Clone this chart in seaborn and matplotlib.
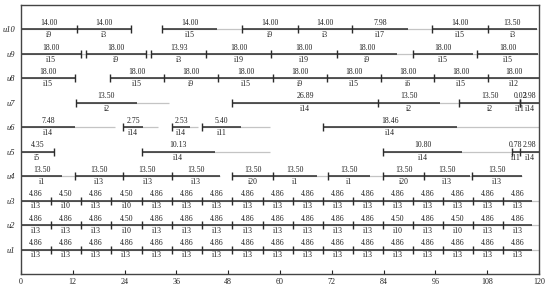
import pandas as pd
import matplotlib
matplotlib.use('Agg')
import matplotlib.pyplot as plt
import seaborn as sns

########## DATA ##########
machines = ['u1', 'u2', 'u3', 'u4', 'u5', 'u6', 'u7', 'u8', 'u9', 'u10']

# u1-u3 share the same time grid
grid_start = [0, 6.9, 13.9, 20.8, 28.0, 35.0, 41.9, 48.9, 56.1, 63.0, 70.0, 76.9, 83.9, 90.8, 97.8, 104.7, 111.7]
grid_end = [6.9, 13.9, 20.8, 28.0, 35.0, 41.9, 48.9, 56.1, 63.0, 70.0, 76.9, 83.9, 90.8, 97.8, 104.7, 111.7, 118.4]
grid_wait = [6.9, 13.9, 20.8, 28.0, 35.0, 41.9, 48.9, 56.1, 63.0, 70.0, 76.9, 83.9, 90.8, 97.8, 104.7, 111.7, 120]

u1_val = [4.86, 4.86, 4.86, 4.86, 4.86, 4.86, 4.86, 4.86, 4.86, 4.86, 4.86, 4.86, 4.86, 4.86, 4.86, 4.86, 4.86]
u1_job = ['i13', 'i13', 'i13', 'i13', 'i13', 'i13', 'i13', 'i13', 'i13', 'i13', 'i13', 'i13', 'i13', 'i13', 'i13', 'i13', 'i13']
u2_val = [4.86, 4.86, 4.86, 4.50, 4.86, 4.86, 4.86, 4.86, 4.86, 4.86, 4.86, 4.86, 4.50, 4.86, 4.50, 4.86, 4.86]
u2_job = ['i13', 'i13', 'i13', 'i10', 'i13', 'i13', 'i13', 'i13', 'i13', 'i13', 'i13', 'i13', 'i10', 'i13', 'i10', 'i13', 'i13']
u3_val = [4.86, 4.50, 4.86, 4.50, 4.86, 4.86, 4.86, 4.86, 4.86, 4.86, 4.86, 4.86, 4.86, 4.86, 4.86, 4.86, 4.86]
u3_job = ['i13', 'i10', 'i13', 'i10', 'i13', 'i13', 'i13', 'i13', 'i13', 'i13', 'i13', 'i13', 'i13', 'i13', 'i13', 'i13', 'i13']

u4_start = [0, 12.5, 23.6, 35.0, 48.9, 58.4, 71.1, 83.9, 93.4, 104.5]
u4_end = [9.5, 23.6, 35.0, 46.1, 58.4, 68.6, 80.9, 93.4, 104.0, 116.1]
u4_wait = [12.5, 23.6, 35.0, 46.1, 58.4, 71.1, 83.9, 93.4, 104.5, 116.1]
u4_val = [13.50, 13.50, 13.50, 13.50, 13.50, 13.50, 13.50, 13.50, 13.50, 13.50]
u4_job = ['i1', 'i13', 'i13', 'i13', 'i20', 'i1', 'i1', 'i20', 'i13', 'i13']

u5_start = [0, 28.0, 83.9, 113.7, 115.6]
u5_end = [7.6, 44.9, 102.2, 115.6, 120]
u5_wait = [7.6, 57.7, 113.7, 115.6, 120]
u5_val = [4.35, 10.13, 10.80, 0.78, 2.98]
u5_job = ['i5', 'i14', 'i14', 'i11', 'i14']

u6_start = [0, 23.6, 35.0, 41.9, 70.0]
u6_end = [12.5, 28.3, 39.2, 51.0, 101.0]
u6_wait = [21.8, 31.7, 41.0, 57.7, 120]
u6_val = [7.48, 2.75, 2.53, 5.40, 18.46]
u6_job = ['i14', 'i14', 'i14', 'i11', 'i14']

u7_start = [12.7, 48.9, 82.7, 101.5, 115.6, 115.6]
u7_end = [26.9, 82.7, 97.1, 115.6, 115.6, 120]
u7_wait = [34.3, 82.7, 101.5, 115.6, 115.6, 120]
u7_val = [13.50, 26.89, 13.50, 13.50, 0.02, 3.98]
u7_job = ['i2', 'i14', 'i2', 'i2', 'i11', 'i14']

u8_start = [0, 20.6, 33.1, 45.6, 58.4, 70.9, 83.4, 95.7, 108.2]
u8_end = [12.5, 33.1, 45.6, 58.4, 70.9, 83.4, 95.7, 108.2, 120]
u8_wait = [12.5, 33.1, 45.6, 58.4, 70.9, 83.4, 95.7, 108.2, 120]
u8_val = [18.00, 18.00, 18.00, 18.00, 18.00, 18.00, 18.00, 18.00, 18.00]
u8_job = ['i15', 'i15', 'i9', 'i15', 'i9', 'i15', 'i6', 'i15', 'i12']

u9_start = [0, 15.1, 30.1, 42.9, 57.9, 73.2, 90.8, 105.6]
u9_end = [13.9, 29.0, 42.9, 57.9, 73.2, 87.1, 104.7, 119.8]
u9_wait = [15.1, 30.1, 42.9, 57.9, 73.2, 90.8, 105.6, 119.8]
u9_val = [18.00, 18.00, 13.93, 18.00, 18.00, 18.00, 18.00, 18.00]
u9_job = ['i15', 'i9', 'i3', 'i19', 'i19', 'i9', 'i15', 'i15']

u10_start = [0, 13.0, 32.7, 51.2, 64.2, 76.7, 95.2, 108.2]
u10_end = [13.0, 25.5, 45.4, 64.2, 76.7, 89.7, 108.2, 119.5]
u10_wait = [13.0, 25.5, 51.2, 64.2, 76.7, 95.2, 108.2, 119.5]
u10_val = [14.00, 14.00, 14.00, 14.00, 14.00, 7.98, 14.00, 13.50]
u10_job = ['i9', 'i3', 'i15', 'i9', 'i3', 'i17', 'i15', 'i3']

# closing markers drawn at the end of some operations
end_mark_machine = ['u10', 'u9', 'u9', 'u8', 'u5']
end_mark_time = [25.5, 13.9, 29.0, 12.5, 7.6]

x_ticks = [0, 12, 24, 36, 48, 60, 72, 84, 96, 108, 120]
################################################

rows = [
    ('u1', grid_start, grid_end, grid_wait, u1_val, u1_job),
    ('u2', grid_start, grid_end, grid_wait, u2_val, u2_job),
    ('u3', grid_start, grid_end, grid_wait, u3_val, u3_job),
    ('u4', u4_start, u4_end, u4_wait, u4_val, u4_job),
    ('u5', u5_start, u5_end, u5_wait, u5_val, u5_job),
    ('u6', u6_start, u6_end, u6_wait, u6_val, u6_job),
    ('u7', u7_start, u7_end, u7_wait, u7_val, u7_job),
    ('u8', u8_start, u8_end, u8_wait, u8_val, u8_job),
    ('u9', u9_start, u9_end, u9_wait, u9_val, u9_job),
    ('u10', u10_start, u10_end, u10_wait, u10_val, u10_job),
]
recs = []
for m, s, e, w, v, j in rows:
    for i in range(len(s)):
        recs.append({'machine': m, 'start': s[i], 'end': e[i], 'wait': w[i], 'value': v[i], 'job': j[i]})
df = pd.DataFrame(recs)
ypos = {m: i + 1 for i, m in enumerate(machines)}
df['y'] = df['machine'].map(ypos)

marks = df.loc[df['start'] > 0, ['start', 'y']].rename(columns={'start': 't'})
extra = pd.DataFrame({'t': end_mark_time, 'y': [ypos[m] for m in end_mark_machine]})
marks = pd.concat([marks, extra], ignore_index=True)

sns.set_theme(style='white')
plt.rcParams['font.family'] = ['Liberation Serif', 'DejaVu Serif']

dark = '#2b2b2b'
grey = '#c4c4c4'

fig = plt.figure(figsize=(5.5, 2.91), dpi=100)
ax = fig.add_axes([21 / 550, 1 - 274 / 291, 518 / 550, 269 / 291])

# waiting part (light) then processing part (dark)
ax.hlines(df['y'], df['start'], df['wait'], color=grey, lw=0.9, zorder=1)
ax.hlines(df['y'], df['start'], df['end'], color=dark, lw=1.1, zorder=2)
sns.scatterplot(data=marks, x='t', y='y', marker='|', s=36, color=dark,
                linewidth=1.0, ax=ax, legend=False, zorder=3)

for _, r in df.iterrows():
    xc = (r['start'] + r['end']) / 2
    ax.annotate('%.2f' % r['value'], (xc, r['y']), xytext=(0, 4.6), textcoords='offset points',
                ha='center', va='center', fontsize=5.6, color='#222')
    ax.annotate(r['job'], (xc, r['y']), xytext=(0, -4.2), textcoords='offset points',
                ha='center', va='center', fontsize=5.6, color='#222')

ax.set_xlim(0, 120)
ax.set_ylim(0, 11)
ax.set_xticks(x_ticks)
ax.set_xticklabels([str(t) for t in x_ticks])
ax.set_yticks(range(1, 11))
ax.set_yticklabels(machines, fontstyle='italic')
ax.set_xlabel('')
ax.set_ylabel('')
ax.tick_params(axis='x', direction='in', length=3, width=0.8, labelsize=5.8, pad=3, colors='#222', bottom=True)
ax.tick_params(axis='y', length=0, labelsize=6, pad=4, colors='#222')
for sp in ax.spines.values():
    sp.set_visible(True)
    sp.set_color('#444')
    sp.set_linewidth(1.0)

plt.savefig('out.png', dpi=100)
